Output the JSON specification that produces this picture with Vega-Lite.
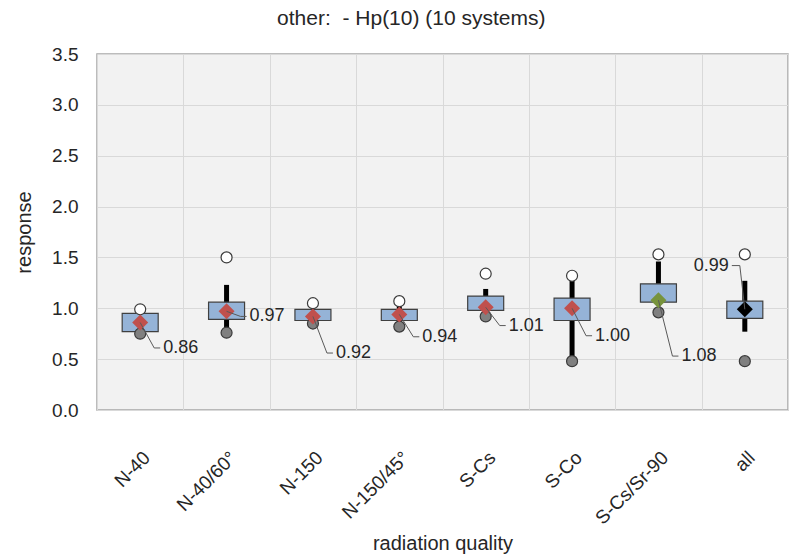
{
  "$schema": "https://vega.github.io/schema/vega-lite/v6.json",
  "width": 691,
  "height": 356,
  "autosize": {"type": "none"},
  "padding": {"left": 97, "top": 54, "right": 6, "bottom": 148},
  "background": "white",
  "title": {
    "text": "other: \u00a0- Hp(10) (10 systems)",
    "fontSize": 21,
    "font": "Liberation Sans Narrow, Arial Narrow, Liberation Sans, sans-serif",
    "fontWeight": "normal",
    "color": "#262626",
    "anchor": "middle",
    "frame": "bounds",
    "offset": 16,
    "dx": 10
  },
  "config": {
    "view": {"fill": "#F2F2F2", "stroke": "#A6A6A6", "strokeWidth": 1.5},
    "axis": {
      "gridColor": "#D9D9D9",
      "gridWidth": 1,
      "domain": false,
      "ticks": false,
      "labelFont": "Liberation Sans Narrow, Arial Narrow, Liberation Sans, sans-serif",
      "labelFontSize": 19,
      "labelColor": "#262626",
      "titleFont": "Liberation Sans Narrow, Arial Narrow, Liberation Sans, sans-serif",
      "titleFontSize": 20,
      "titleFontWeight": "normal",
      "titleColor": "#262626"
    }
  },
  "data": {
    "values": [
      {"cat": "N-40", "q1": 0.77, "q3": 0.95, "wlo": 0.77, "whi": 0.95, "mean": 0.86, "min": 0.75, "max": 0.99, "labelY": 0.61, "side": "right"},
      {"cat": "N-40/60°", "q1": 0.89, "q3": 1.06, "wlo": 0.79, "whi": 1.23, "mean": 0.97, "min": 0.76, "max": 1.50, "labelY": 0.92, "side": "right"},
      {"cat": "N-150", "q1": 0.88, "q3": 0.99, "wlo": 0.88, "whi": 0.99, "mean": 0.92, "min": 0.85, "max": 1.05, "labelY": 0.56, "side": "right"},
      {"cat": "N-150/45°", "q1": 0.88, "q3": 0.99, "wlo": 0.86, "whi": 1.03, "mean": 0.94, "min": 0.82, "max": 1.07, "labelY": 0.72, "side": "right"},
      {"cat": "S-Cs", "q1": 0.98, "q3": 1.12, "wlo": 0.98, "whi": 1.19, "mean": 1.01, "min": 0.92, "max": 1.34, "labelY": 0.83, "side": "right"},
      {"cat": "S-Co", "q1": 0.88, "q3": 1.10, "wlo": 0.52, "whi": 1.28, "mean": 1.00, "min": 0.48, "max": 1.32, "labelY": 0.73, "side": "right"},
      {"cat": "S-Cs/Sr-90", "q1": 1.06, "q3": 1.24, "wlo": 1.06, "whi": 1.46, "mean": 1.08, "min": 0.96, "max": 1.53, "labelY": 0.53, "side": "right"},
      {"cat": "all", "q1": 0.90, "q3": 1.07, "wlo": 0.77, "whi": 1.27, "mean": 0.99, "min": 0.48, "max": 1.53, "labelY": 1.42, "side": "left"}
    ]
  },
  "encoding": {
    "x": {
      "field": "cat",
      "type": "nominal",
      "sort": null,
      "scale": {"paddingInner": 0, "paddingOuter": 0},
      "axis": {
        "title": "radiation quality",
        "labelAngle": -45,
        "labelFontSize": 19,
        "labelPadding": 38,
        "grid": true,
        "tickBand": "extent",
        "titlePadding": 6
      }
    }
  },
  "layer": [
    {
      "mark": {"type": "rule", "strokeWidth": 5, "color": "black"},
      "encoding": {
        "y": {
          "field": "wlo",
          "type": "quantitative",
          "scale": {"domain": [0, 3.5], "nice": false},
          "axis": {
            "title": "response",
            "values": [0, 0.5, 1, 1.5, 2, 2.5, 3, 3.5],
            "format": ".1f",
            "labelPadding": 19,
            "titlePadding": 17,
            "grid": true
          }
        },
        "y2": {"field": "whi"}
      }
    },
    {
      "mark": {"type": "bar", "size": 36, "fill": "#95B3D7", "stroke": "#404040", "strokeWidth": 1.2},
      "encoding": {
        "y": {"field": "q1", "type": "quantitative"},
        "y2": {"field": "q3"}
      }
    },
    {
      "mark": {"type": "point", "shape": "circle", "filled": true, "size": 121, "fill": "#808080", "stroke": "#3A3A3A", "strokeWidth": 1.2, "opacity": 1},
      "encoding": {"y": {"field": "min", "type": "quantitative"}}
    },
    {
      "mark": {"type": "point", "shape": "circle", "filled": true, "size": 121, "fill": "white", "stroke": "#3A3A3A", "strokeWidth": 1.2, "opacity": 1},
      "encoding": {"y": {"field": "max", "type": "quantitative"}}
    },
    {
      "mark": {"type": "point", "shape": "diamond", "filled": true, "size": 256, "opacity": 1},
      "encoding": {
        "y": {"field": "mean", "type": "quantitative"},
        "color": {
          "field": "cat",
          "type": "nominal",
          "scale": {
            "domain": ["N-40", "N-40/60°", "N-150", "N-150/45°", "S-Cs", "S-Co", "S-Cs/Sr-90", "all"],
            "range": ["#C0504D", "#C0504D", "#C0504D", "#C0504D", "#C0504D", "#C0504D", "#77933C", "#000000"]
          },
          "legend": null
        }
      }
    },
    {
      "transform": [{"filter": "datum.side === 'right'"}],
      "layer": [
        {
          "mark": {"type": "rule", "color": "#595959", "strokeWidth": 1, "x2Offset": 14},
          "encoding": {
            "y": {"field": "mean", "type": "quantitative"},
            "x2": {"field": "cat"},
            "y2": {"field": "labelY"}
          }
        },
        {
          "mark": {"type": "rule", "color": "#595959", "strokeWidth": 1, "xOffset": 14, "x2Offset": 20},
          "encoding": {
            "y": {"field": "labelY", "type": "quantitative"},
            "x2": {"field": "cat"}
          }
        },
        {
          "mark": {"type": "text", "align": "left", "baseline": "middle", "dx": 23, "fontSize": 18, "color": "#262626", "font": "Liberation Sans Narrow, Arial Narrow, Liberation Sans, sans-serif"},
          "encoding": {
            "y": {"field": "labelY", "type": "quantitative"},
            "text": {"field": "mean", "type": "quantitative", "format": ".2f"}
          }
        }
      ]
    },
    {
      "transform": [{"filter": "datum.side === 'left'"}],
      "layer": [
        {
          "mark": {"type": "rule", "color": "#595959", "strokeWidth": 1, "x2Offset": -5},
          "encoding": {
            "y": {"field": "mean", "type": "quantitative"},
            "x2": {"field": "cat"},
            "y2": {"field": "labelY"}
          }
        },
        {
          "mark": {"type": "rule", "color": "#595959", "strokeWidth": 1, "xOffset": -5, "x2Offset": -13},
          "encoding": {
            "y": {"field": "labelY", "type": "quantitative"},
            "x2": {"field": "cat"}
          }
        },
        {
          "mark": {"type": "text", "align": "right", "baseline": "middle", "dx": -16, "fontSize": 18, "color": "#262626", "font": "Liberation Sans Narrow, Arial Narrow, Liberation Sans, sans-serif"},
          "encoding": {
            "y": {"field": "labelY", "type": "quantitative"},
            "text": {"field": "mean", "type": "quantitative", "format": ".2f"}
          }
        }
      ]
    }
  ]
}
